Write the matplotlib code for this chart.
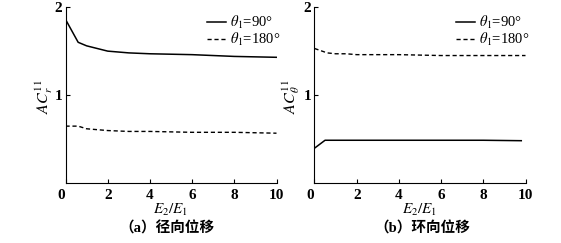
import matplotlib
matplotlib.use("Agg")
import matplotlib.pyplot as plt
from matplotlib.lines import Line2D

# ratio E2/E1
x_vals = [0, 0.6, 1.0, 1.5, 2, 3, 4, 6, 8, 10]
x_hoop_90 = [0, 0.5, 1.0, 1.5, 2, 3, 4, 6, 8, 9.8]

# (a) radial
radial_90 = [1.86, 1.60, 1.56, 1.53, 1.50, 1.48, 1.47, 1.46, 1.44, 1.43]
radial_180 = [0.65, 0.65, 0.62, 0.61, 0.60, 0.59, 0.59, 0.58, 0.58, 0.57]

# (b) hoop
hoop_90 = [0.40, 0.49, 0.49, 0.49, 0.49, 0.49, 0.49, 0.49, 0.49, 0.485]
hoop_180 = [1.53, 1.48, 1.47, 1.47, 1.46, 1.46, 1.46, 1.45, 1.45, 1.45]

x_ticks = [0, 2, 4, 6, 8, 10]
y_ticks = [1, 2]
legend_labels = [r"$\theta_1$=90°", r"$\theta_1$=180°"]
captions = ["（a）径向位移", "（b）环向位移"]
ylabels = [r"$AC_r^{11}$", r"$AC_\theta^{11}$"]

plt.rcParams["font.family"] = ["Liberation Serif", "Noto Sans CJK SC"]
plt.rcParams["mathtext.fontset"] = "stix"

W, H = 561, 243
fig = plt.figure(figsize=(W / 100, H / 100), dpi=100)

dash = (0, (3.0, 2.0))
panels = [
    (65.5, x_vals, radial_90, x_vals, radial_180, 167, -0.052),
    (314.5, x_hoop_90, hoop_90, x_vals, hoop_180, 422, -0.058),
]

for i, (left_px, xs, solid, xd, dashed, cap_px, ylab_x) in enumerate(panels):
    ax = fig.add_axes([left_px / W, 1 - 183.5 / H, 211 / W, 176.5 / H])
    ax.plot(xs, solid, color="black", lw=1.1, ls="-")
    ax.plot(xd, dashed, color="black", lw=1.0, ls=dash)
    ax.set_xlim(0, 10)
    ax.set_ylim(0, 2)
    ax.set_xticks(x_ticks)
    ax.set_yticks(y_ticks)
    ax.spines["top"].set_visible(False)
    ax.spines["right"].set_visible(False)
    ax.tick_params(direction="in", length=3, width=0.8, labelsize=11)
    ax.tick_params(axis="x", pad=4)
    ax.tick_params(axis="y", pad=2.5)
    for lab in ax.get_xticklabels() + ax.get_yticklabels():
        lab.set_fontweight("bold")
    ax.get_xticklabels()[0].set_horizontalalignment("right")
    ax.set_ylabel(ylabels[i], fontsize=11.5)
    ax.yaxis.set_label_coords(ylab_x, 0.49)
    ax.set_xlabel(r"$E_2/E_1$", fontsize=11, labelpad=0)

    handles = [
        Line2D([], [], color="black", lw=1.1, ls="-"),
        Line2D([], [], color="black", lw=1.0, ls=dash),
    ]
    ax.legend(handles, legend_labels, loc="upper left",
              bbox_to_anchor=(0.635, 1.0), frameon=False, fontsize=10.5,
              borderpad=0, handlelength=1.3, handletextpad=0.3,
              labelspacing=0.0)

    fig.text(cap_px / W, 1 - 228 / H, captions[i], ha="center", va="center",
             fontsize=10.5, fontweight="bold")

fig.savefig("out.png", dpi=100)
